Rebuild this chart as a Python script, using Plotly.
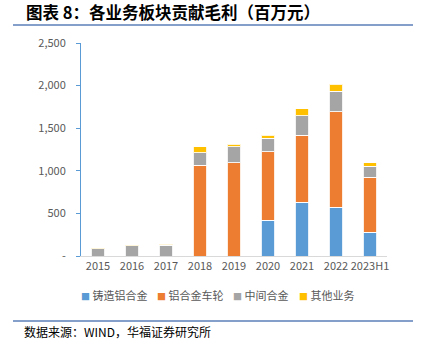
import plotly.graph_objects as go

categories = ["2015", "2016", "2017", "2018", "2019", "2020", "2021", "2022", "2023H1"]
casting_alloy = [0, 0, 0, 0, 0, 422, 629, 570, 277]
wheels = [0, 0, 0, 1067, 1094, 802, 786, 1126, 645]
master_alloy = [88, 118, 128, 145, 188, 156, 234, 239, 129]
other = [7, 7, 10, 70, 32, 39, 82, 83, 43]

series_names = ["铸造铝合金", "铝合金车轮", "中间合金", "其他业务"]
series_values = [casting_alloy, wheels, master_alloy, other]
colors = ["#5B9BD5", "#ED7D31", "#A5A5A5", "#FFC000"]

y_tickvals = [0, 500, 1000, 1500, 2000, 2500]
y_ticktext = ["-", "500", "1,000", "1,500", "2,000", "2,500"]

FONT = "Noto Sans CJK SC"
GRAY = "#595959"

fig = go.Figure()
for name, vals, c in zip(series_names, series_values, colors):
    fig.add_trace(go.Bar(
        x=categories, y=vals, name=name,
        marker=dict(color=c, line=dict(color="rgba(255,255,255,0.85)", width=1)),
        showlegend=False,
    ))

W, H = 427, 348
L, R, T, B = 81, 40, 43, 92
pw, ph = W - L - R, H - T - B

def px(x):
    return (x - L) / pw

def py(y):
    return (H - B - y) / ph

fig.update_layout(
    width=W, height=H,
    margin=dict(l=L, r=R, t=T, b=B),
    barmode="stack",
    bargap=0.59,
    plot_bgcolor="white",
    paper_bgcolor="white",
    font=dict(family=FONT, size=11, color=GRAY),
    showlegend=False,
    xaxis=dict(
        type="category",
        showline=True, linecolor="#D9D9D9", linewidth=1,
        ticks="", showgrid=False,
        tickfont=dict(size=11, color=GRAY),
    ),
    yaxis=dict(
        range=[0, 2500],
        tickvals=y_tickvals, ticktext=y_ticktext,
        showline=True, linecolor="#5B9BD5", linewidth=1,
        ticks="outside", tickcolor="#5B9BD5", ticklen=4,
        ticklabelstandoff=8,
        showgrid=False, zeroline=False,
        tickfont=dict(size=11, color=GRAY),
    ),
)

# header / footer rules
for yy in (25, 321):
    fig.add_shape(type="line", xref="paper", yref="paper",
                  x0=px(13), x1=px(413), y0=py(yy), y1=py(yy),
                  line=dict(color="#5A7FB8", width=1.5))

fig.add_annotation(text="<b>图表 8：各业务板块贡献毛利（百万元）</b>",
                   xref="paper", yref="paper", x=px(24), y=py(12),
                   xanchor="left", yanchor="middle", showarrow=False,
                   font=dict(family=FONT, size=16.5, color="black"))

fig.add_annotation(text="数据来源：WIND，华福证券研究所",
                   xref="paper", yref="paper", x=px(22), y=py(331),
                   xanchor="left", yanchor="middle", showarrow=False,
                   font=dict(family=FONT, size=12, color="black"))

# legend drawn as annotations
legend_x = [79, 155, 231, 297]
for name, c, lx in zip(series_names, colors, legend_x):
    fig.add_annotation(
        text=f'<span style="color:{c};font-size:9px">■</span> {name}',
        xref="paper", yref="paper", x=px(lx), y=py(295),
        xanchor="left", yanchor="middle", showarrow=False,
        font=dict(family=FONT, size=11, color=GRAY))

fig.write_html("out.html")
